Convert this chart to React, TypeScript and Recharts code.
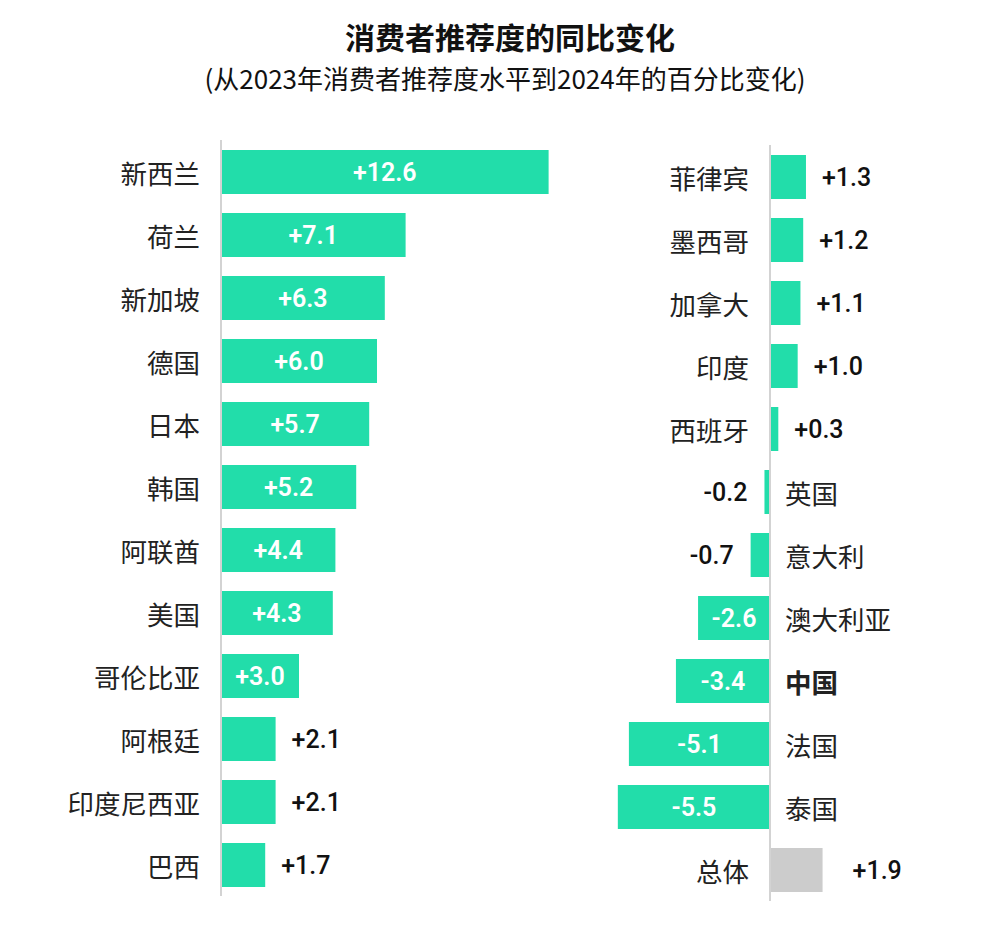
import { BarChart, Bar, XAxis, YAxis, ReferenceLine } from 'recharts';

const leftCountries = ['新西兰', '荷兰', '新加坡', '德国', '日本', '韩国', '阿联酋', '美国', '哥伦比亚', '阿根廷', '印度尼西亚', '巴西'];
const leftValues = [12.6, 7.1, 6.3, 6.0, 5.7, 5.2, 4.4, 4.3, 3.0, 2.1, 2.1, 1.7];

const rightCountries = ['菲律宾', '墨西哥', '加拿大', '印度', '西班牙', '英国', '意大利', '澳大利亚', '中国', '法国', '泰国', '总体'];
const rightValues = [1.3, 1.2, 1.1, 1.0, 0.3, -0.2, -0.7, -2.6, -3.4, -5.1, -5.5, 1.9];

const TEAL = '#22DDAA';
const GREY = '#CCCCCC';
const AXIS = '#D3D3D3';
const CJK = "'Noto Sans CJK SC', sans-serif";
const NUM = "Roboto, 'Noto Sans CJK SC', sans-serif";

const leftData = leftCountries.map((name, i) => ({ name, value: leftValues[i] }));
const rightData = rightCountries.map((name, i) => ({ name, value: rightValues[i] }));

const fmt = (v: number) => (v > 0 ? '+' : '') + v.toFixed(1);

// bar + value label + category label, all placed from the bar geometry recharts hands us
function BarWithLabels(props: any) {
  const { x, y, width, height, payload } = props;
  const v: number = payload.value;
  const left = Math.min(x, x + width);
  const right = Math.max(x, x + width);
  const w = right - left;
  const cy = y + height / 2;
  const zero = v >= 0 ? left : right;
  const isTotal = payload.name === '总体';
  const fill = isTotal ? GREY : TEAL;
  const inside = w > 65;

  let valueEl;
  if (inside) {
    valueEl = (
      <text x={(left + right) / 2} y={cy} textAnchor="middle" dominantBaseline="central"
        fill="#fff" fontSize={25} fontWeight={600} fontFamily={NUM}>
        {fmt(v)}
      </text>
    );
  } else if (v >= 0) {
    valueEl = (
      <text x={right + (isTotal ? 30 : 16)} y={cy} textAnchor="start" dominantBaseline="central"
        fill="#111" fontSize={25} fontWeight={500} fontFamily={NUM}>
        {fmt(v)}
      </text>
    );
  } else {
    valueEl = (
      <text x={left - 17} y={cy} textAnchor="end" dominantBaseline="central"
        fill="#111" fontSize={25} fontWeight={500} fontFamily={NUM}>
        {fmt(v)}
      </text>
    );
  }

  const catEl =
    v >= 0 ? (
      <text x={zero - 21} y={cy} textAnchor="end" dominantBaseline="central"
        fill="#222" fontSize={26.5} fontFamily={CJK}>
        {payload.name}
      </text>
    ) : (
      <text x={zero + 15} y={cy} textAnchor="start" dominantBaseline="central"
        fill="#222" fontSize={26.5} fontFamily={CJK} fontWeight={payload.name === '中国' ? 700 : 400}>
        {payload.name}
      </text>
    );

  return (
    <g>
      <rect x={left} y={y} width={w} height={height} fill={fill} />
      {valueEl}
      {catEl}
    </g>
  );
}

export default function App() {
  return (
    <div style={{ position: 'absolute', left: 0, top: 0, width: 1000, height: 950, background: '#fff' }}>
      <div style={{ position: 'absolute', top: 19, left: 10, width: 1000, textAlign: 'center', fontFamily: CJK, fontWeight: 700, fontSize: 30, lineHeight: '34px', color: '#111' }}>
        消费者推荐度的同比变化
      </div>
      <div style={{ position: 'absolute', top: 63, left: 5, width: 1000, textAlign: 'center', fontFamily: CJK, fontSize: 26, lineHeight: '30px', color: '#111' }}>
        (从2023年消费者推荐度水平到2024年的百分比变化)
      </div>

      <div style={{ position: 'absolute', left: 0, top: 130 }}>
        <BarChart width={600} height={776} data={leftData} layout="vertical"
          margin={{ top: 10, right: 15, bottom: 10, left: 221 }}>
          <XAxis type="number" domain={[0, 14]} hide />
          <YAxis type="category" dataKey="name" hide />
          <Bar dataKey="value" barSize={44} shape={BarWithLabels} isAnimationActive={false} />
          <ReferenceLine x={0} stroke={AXIS} strokeWidth={2} />
        </BarChart>
      </div>

      <div style={{ position: 'absolute', left: 560, top: 135 }}>
        <BarChart width={440} height={776} data={rightData} layout="vertical"
          margin={{ top: 10, right: 147, bottom: 10, left: 44 }}>
          <XAxis type="number" domain={[-6, 3]} hide />
          <YAxis type="category" dataKey="name" hide />
          <Bar dataKey="value" barSize={44} shape={BarWithLabels} isAnimationActive={false} />
          <ReferenceLine x={0} stroke={AXIS} strokeWidth={2} />
        </BarChart>
      </div>
    </div>
  );
}
